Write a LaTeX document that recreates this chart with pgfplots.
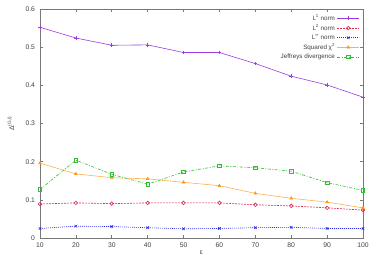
\documentclass[border=0pt]{standalone}
\usepackage{pgfplots}
\pgfplotsset{compat=1.18}
\usepackage{fontspec}
\setmainfont{Liberation Sans}
\definecolor{cL1}{RGB}{155,60,225}
\definecolor{cL2}{RGB}{225,40,80}
\definecolor{cLi}{RGB}{40,40,235}
\definecolor{cChi}{RGB}{255,150,20}
\definecolor{cJ}{RGB}{50,190,50}
\definecolor{frame}{RGB}{120,120,120}
\begin{document}
\begin{tikzpicture}
\useasboundingbox (-40bp,-24bp) rectangle (334bp,238bp);
\begin{axis}[
  at={(0,0)}, anchor=south west,
  scale only axis, width=323bp, height=229bp,
  xmin=10, xmax=100, ymin=0, ymax=0.6,
  xtick={10,20,...,100}, ytick={0,0.1,...,0.6},
  yticklabels={0,0.1,0.2,0.3,0.4,0.5,0.6},
  tick align=inside, tick pos=both,
  major tick length=3bp,
  axis line style={frame, line width=0.9bp},
  every tick/.style={frame, line width=0.6bp},
  tick label style={font=\fontsize{6.8}{7}\selectfont, text=black!75},
  /pgf/number format/assume math mode=true,
  xticklabel style={yshift=-1bp},
  yticklabel style={xshift=-1.5bp},
  xlabel={ε},
  ylabel={Δ\textsuperscript{(G,l)}},
  label style={font=\fontsize{6.8}{7}\selectfont, text=black!75},
  x label style={at={(axis description cs:0.5,-0.066)}, anchor=center},
  y label style={at={(axis description cs:-0.09,0.5)}, anchor=center, rotate=0},
  legend cell align=right,
  legend plot pos=right,
  legend style={draw=none, fill=none, at={(axis description cs:0.99,0.985)}, anchor=north east,
    font=\fontsize{6.3}{6.5}\selectfont, row sep=-1bp, inner sep=0pt, text=black!75,
    /tikz/every even column/.append style={column sep=3bp}},
  legend image code/.code={\draw[#1] (0bp,0bp) -- (22bp,0bp); \draw[#1, solid] plot coordinates {(11bp,0bp)};},
  every axis plot/.append style={line width=0.6bp, mark options={solid}},
]
\addplot[cL1, mark=+, mark size=1.8bp] coordinates {
(10,0.552) (20,0.524) (30,0.505) (40,0.506) (50,0.486) (60,0.486) (70,0.457) (80,0.424) (90,0.401) (100,0.369)};
\addlegendentry{L\textsuperscript{1} norm}
\addplot[cL2, dash pattern=on 2bp off 1bp, mark=o, mark size=1.8bp] coordinates {
(10,0.089) (20,0.092) (30,0.090) (40,0.092) (50,0.092) (60,0.092) (70,0.087) (80,0.084) (90,0.079) (100,0.073)};
\addlegendentry{L\textsuperscript{2} norm}
\addplot[cLi, dash pattern=on 1bp off 1bp, mark=x, mark size=1.8bp] coordinates {
(10,0.025) (20,0.031) (30,0.030) (40,0.027) (50,0.024) (60,0.025) (70,0.027) (80,0.028) (90,0.025) (100,0.025)};
\addlegendentry{L\textsuperscript{∞} norm}
\addplot[cChi!75, mark=triangle*, mark size=1.5bp, mark options={cChi}] coordinates {
(10,0.196) (20,0.168) (30,0.158) (40,0.155) (50,0.146) (60,0.137) (70,0.117) (80,0.104) (90,0.094) (100,0.079)};
\addlegendentry{Squared χ\textsuperscript{2}}
\addplot[cJ, dash pattern=on 3bp off 1.5bp on 1bp off 1.5bp, mark=square, mark size=1.8bp] coordinates {
(10,0.127) (20,0.204) (30,0.167) (40,0.141) (50,0.173) (60,0.189) (70,0.184) (80,0.175) (90,0.145) (100,0.125)};
\addlegendentry{Jeffreys divergence}
\end{axis}
\end{tikzpicture}
\end{document}
